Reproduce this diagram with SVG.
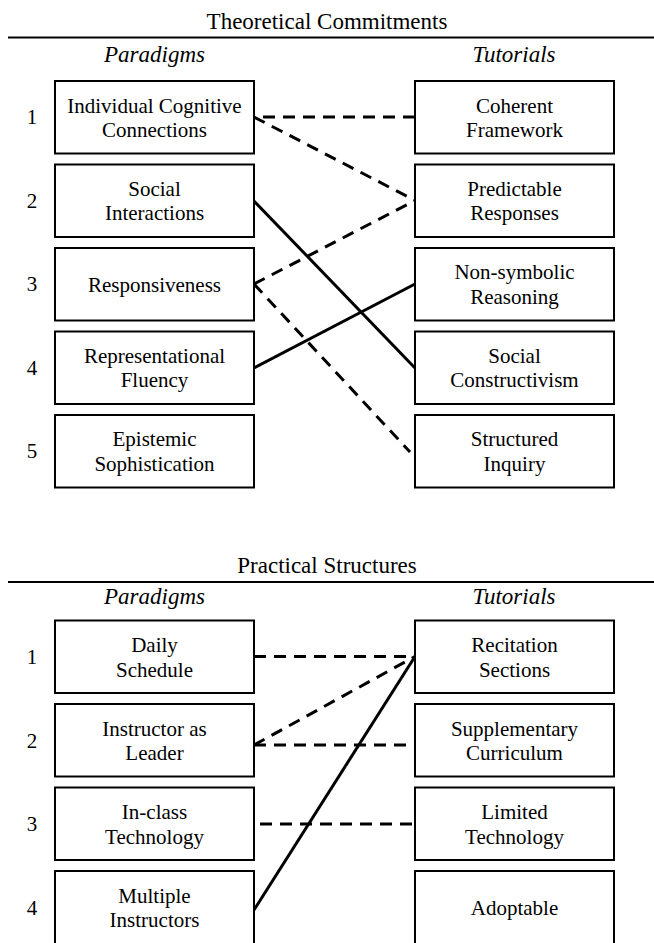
<svg xmlns="http://www.w3.org/2000/svg" width="654" height="943" viewBox="0 0 654 943" font-family="'Liberation Serif', Tinos, 'Times New Roman', Times, 'DejaVu Serif', serif">
<style>
text{font-family:'Liberation Serif',Tinos,'Times New Roman',Times,'DejaVu Serif',serif;fill:#000}
.t{font-size:23px;text-anchor:middle}
.h{font-size:23px;font-style:italic;text-anchor:middle}
.n{font-size:21px;text-anchor:middle}
.b{font-size:21px;text-anchor:middle}
.box{fill:#fff;stroke:#000;stroke-width:2}
.rule{stroke:#000;stroke-width:2}
.c{fill:none;stroke:#000;stroke-width:3}
.d{stroke-dasharray:12 8}
</style>
<rect width="654" height="943" fill="#fff"/>
<g id="section1-header">
<text class="t" x="327" y="29">Theoretical Commitments</text>
<line class="rule" x1="8" y1="37.5" x2="654" y2="37.5"/>
<text class="h" x="154.5" y="61.5">Paradigms</text>
<text class="h" x="514" y="61.5">Tutorials</text>
</g>
<g id="section1-numbers">
<text class="n" x="32" y="124">1</text>
<text class="n" x="32" y="208">2</text>
<text class="n" x="32" y="291">3</text>
<text class="n" x="32" y="375">4</text>
<text class="n" x="32" y="458">5</text>
</g>
<g id="connectors1">
<line class="c d" x1="415" y1="117" x2="254" y2="117"/>
<line class="c d" x1="254" y1="117" x2="415" y2="200.5"/>
<line class="c" x1="254" y1="201" x2="415" y2="368"/>
<line class="c d" x1="254" y1="284" x2="415" y2="200.5"/>
<line class="c d" x1="254" y1="284" x2="410" y2="452"/>
<line class="c" x1="254" y1="368" x2="415" y2="284"/>
</g>
<g id="p1"><rect class="box" x="55" y="81" width="199" height="72.5"/><text class="b" x="154.5" y="112.5">Individual Cognitive</text><text class="b" x="154.5" y="137">Connections</text></g>
<g id="p2"><rect class="box" x="55" y="164.5" width="199" height="72.5"/><text class="b" x="154.5" y="195.5">Social</text><text class="b" x="154.5" y="220">Interactions</text></g>
<g id="p3"><rect class="box" x="55" y="248" width="199" height="72.5"/><text class="b" x="154.5" y="291.5">Responsiveness</text></g>
<g id="p4"><rect class="box" x="55" y="331.5" width="199" height="72.5"/><text class="b" x="154.5" y="362.5">Representational</text><text class="b" x="154.5" y="387">Fluency</text></g>
<g id="p5"><rect class="box" x="55" y="415" width="199" height="72.5"/><text class="b" x="154.5" y="446">Epistemic</text><text class="b" x="154.5" y="470.5">Sophistication</text></g>
<g id="t1"><rect class="box" x="415" y="81" width="199" height="72.5"/><text class="b" x="514.5" y="112.5">Coherent</text><text class="b" x="514.5" y="137">Framework</text></g>
<g id="t2"><rect class="box" x="415" y="164.5" width="199" height="72.5"/><text class="b" x="514.5" y="195.5">Predictable</text><text class="b" x="514.5" y="220">Responses</text></g>
<g id="t3"><rect class="box" x="415" y="248" width="199" height="72.5"/><text class="b" x="514.5" y="279">Non-symbolic</text><text class="b" x="514.5" y="303.5">Reasoning</text></g>
<g id="t4"><rect class="box" x="415" y="331.5" width="199" height="72.5"/><text class="b" x="514.5" y="362.5">Social</text><text class="b" x="514.5" y="387">Constructivism</text></g>
<g id="t5"><rect class="box" x="415" y="415" width="199" height="72.5"/><text class="b" x="514.5" y="446">Structured</text><text class="b" x="514.5" y="470.5">Inquiry</text></g>
<g id="section2-header">
<text class="t" x="327" y="573">Practical Structures</text>
<line class="rule" x1="8" y1="582" x2="654" y2="582"/>
<text class="h" x="154.5" y="604">Paradigms</text>
<text class="h" x="514" y="604">Tutorials</text>
</g>
<g id="section2-numbers">
<text class="n" x="32" y="664">1</text>
<text class="n" x="32" y="748">2</text>
<text class="n" x="32" y="831">3</text>
<text class="n" x="32" y="915">4</text>
</g>
<g id="connectors2">
<line class="c d" x1="254" y1="656.5" x2="415" y2="656.5"/>
<line class="c d" x1="254" y1="745" x2="415" y2="656.5"/>
<line class="c d" x1="254" y1="745" x2="415" y2="745"/>
<line class="c d" x1="260" y1="824" x2="415" y2="824"/>
<line class="c" x1="254" y1="910" x2="415" y2="656.5"/>
</g>
<g id="q1"><rect class="box" x="55" y="620.5" width="199" height="72.5"/><text class="b" x="154.5" y="652">Daily</text><text class="b" x="154.5" y="676.5">Schedule</text></g>
<g id="q2"><rect class="box" x="55" y="704" width="199" height="72.5"/><text class="b" x="154.5" y="735.5">Instructor as</text><text class="b" x="154.5" y="760">Leader</text></g>
<g id="q3"><rect class="box" x="55" y="787.5" width="199" height="72.5"/><text class="b" x="154.5" y="819">In-class</text><text class="b" x="154.5" y="843.5">Technology</text></g>
<g id="q4"><rect class="box" x="55" y="871" width="199" height="76"/><text class="b" x="154.5" y="902.5">Multiple</text><text class="b" x="154.5" y="927">Instructors</text></g>
<g id="u1"><rect class="box" x="415" y="620.5" width="199" height="72.5"/><text class="b" x="514.5" y="652">Recitation</text><text class="b" x="514.5" y="676.5">Sections</text></g>
<g id="u2"><rect class="box" x="415" y="704" width="199" height="72.5"/><text class="b" x="514.5" y="735.5">Supplementary</text><text class="b" x="514.5" y="760">Curriculum</text></g>
<g id="u3"><rect class="box" x="415" y="787.5" width="199" height="72.5"/><text class="b" x="514.5" y="819">Limited</text><text class="b" x="514.5" y="843.5">Technology</text></g>
<g id="u4"><rect class="box" x="415" y="871" width="199" height="76"/><text class="b" x="514.5" y="914.5">Adoptable</text></g>
</svg>
